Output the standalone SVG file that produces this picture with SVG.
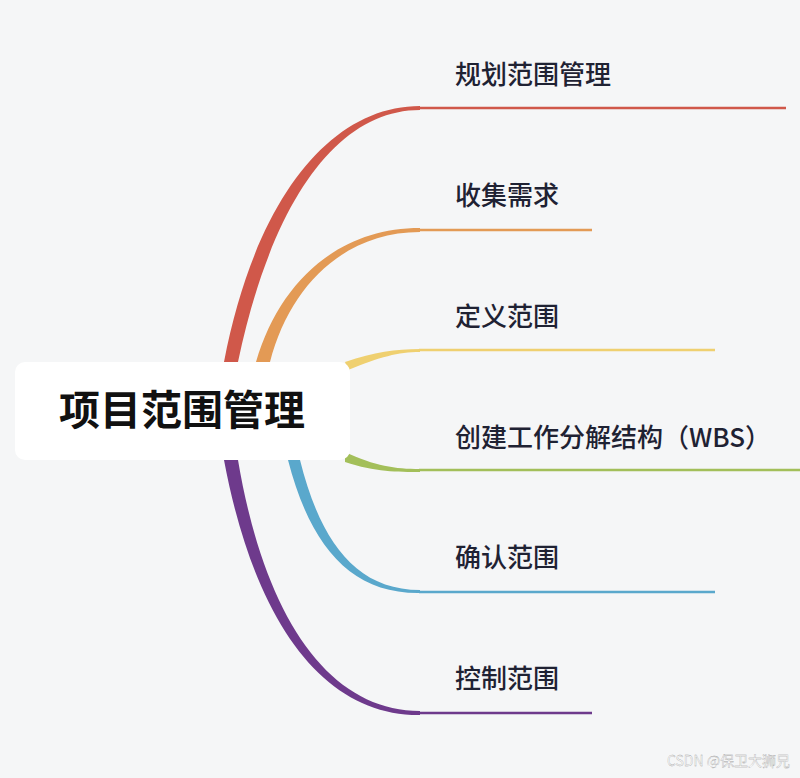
<svg xmlns="http://www.w3.org/2000/svg" width="800" height="778" viewBox="0 0 800 778">
<style>
.lbl{font-family:"Noto Sans CJK SC","Liberation Sans",sans-serif;font-size:26px;font-weight:500;fill:#1f2233}
.ln{fill:none;stroke-width:2.5}
</style>
<rect width="800" height="778" fill="#f5f6f7"/>
<g id="connectors">
<path d="M224,362 C255,200 330,106 420,106 L420,110 C338,110 272,200 238,362 Z" fill="#d0584a"/>
<line class="ln" x1="419" y1="108" x2="786" y2="108" stroke="#d0584a"/>
<path d="M256,362 C280,280 340,228 420,228 L420,232 C345,232 290,285 270,362 Z" fill="#e39a55"/>
<line class="ln" x1="419" y1="230" x2="592" y2="230" stroke="#e39a55"/>
<path d="M345,362 C375,352 395,349 420,349 L420,352 C398,352 380,357 348,370 Z" fill="#efd070"/>
<line class="ln" x1="419" y1="350" x2="715" y2="350" stroke="#efd070"/>
<path d="M345,452 C375,466 395,469 420,469 L420,472 C398,472 375,472 345,462 Z" fill="#a3bf5a"/>
<line class="ln" x1="419" y1="470" x2="800" y2="470" stroke="#a3bf5a"/>
<path d="M300,460 C320,540 355,590 420,590 L420,593 C350,594 310,545 288,460 Z" fill="#5aa8cc"/>
<line class="ln" x1="419" y1="592" x2="715" y2="592" stroke="#5aa8cc"/>
<path d="M238,460 C265,620 330,711 420,711 L420,715 C325,716 255,625 224,460 Z" fill="#6e3a8c"/>
<line class="ln" x1="419" y1="713" x2="592" y2="713" stroke="#6e3a8c"/>
</g>
<g id="root">
<rect x="15" y="362" width="335" height="98" rx="10" fill="#ffffff"/>
<text x="182" y="425" text-anchor="middle" font-family="Noto Sans CJK SC,sans-serif" font-size="41" font-weight="700" fill="#111">项目范围管理</text>
</g>
<g id="n1"><text class="lbl" x="455" y="84">规划范围管理</text></g>
<g id="n2"><text class="lbl" x="455" y="205">收集需求</text></g>
<g id="n3"><text class="lbl" x="455" y="326">定义范围</text></g>
<g id="n4"><text class="lbl" x="455" y="447">创建工作分解结构（WBS）</text></g>
<g id="n5"><text class="lbl" x="455" y="567">确认范围</text></g>
<g id="n6"><text class="lbl" x="455" y="688">控制范围</text></g>
<text x="790" y="766" text-anchor="end" font-family="Noto Sans CJK SC,sans-serif" font-size="14" fill="#ffffff" stroke="#999" stroke-width="0.3">CSDN @保卫大狮兄</text>
</svg>
